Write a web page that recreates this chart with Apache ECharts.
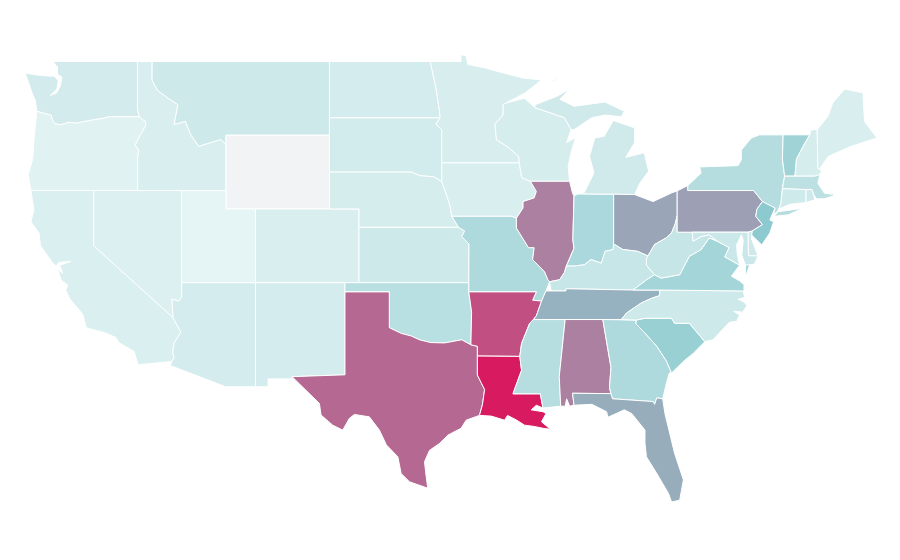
<!DOCTYPE html>
<html><head><meta charset="utf-8">
<style>html,body{margin:0;padding:0;background:#fff}#c{width:900px;height:560px}</style>
<script src="https://cdn.jsdelivr.net/npm/echarts@6/dist/echarts.min.js"></script>
</head><body><div id="c"></div>
<script>
const stateNames = ["WA","OR","CA","NV","ID","MT","WY","UT","CO","AZ","NM","ND","SD","NE","KS","OK","TX","MN","IA","MO","AR","LA","WI","IL","IN","MI","OH","KY","TN","MS","AL","GA","FL","SC","NC","VA","WV","PA","NY","VT","NH","ME","MA","CT","RI","NJ","DE","MD"];
const stateValues = [11.7,4.8,8,6.4,8.5,15,null,2,8.5,10.6,10.6,10.6,12,10,14.4,26,77.5,9.6,9,31.4,85,100,10,71,33,13.3,60,18,57,27,71,31,58,42.5,15,36.7,18.6,62,27.7,39.4,10,8.5,23.4,13.8,14,49,14,16.5];
const scaleStops = ["#e9f6f6","#8bc9ce","#d81b60"];
const noDataColor = "#f2f3f5";
const rev = s => s.split(" ").reverse().join(" ");
const COL = "-123.85,46.3 -123.2,46.15 -122.9,46.1 -122.8,45.85 -122.65,45.62 -122.2,45.57 -121.7,45.7 -121.2,45.65 -120.6,45.75 -119.9,45.85 -119.3,45.93 -119,46 -116.92,46";
const SNK = "-117.03,42 -117.03,43.8 -116.95,44.2 -117.2,44.45 -116.85,45 -116.5,45.5 -116.47,45.74 -116.7,45.85 -116.92,46";
const MTID = "-116.05,49 -116.05,48 -115.7,47.45 -114.95,47 -114.3,46.66 -114.56,45.58 -113.8,45.76 -113.45,45.05 -112.9,44.4 -112.3,44.55 -111.4,44.77 -111.05,44.5";
const COLR = "-114.63,35.1 -114.1,34.3 -114.55,33.75 -114.66,33.2 -114.55,32.9 -114.72,32.72";
const RED = "-100,34.56 -99.2,34.25 -98.5,34.1 -97.96,33.9 -97.2,33.75 -96.27,33.73 -95.1,33.9 -94.48,33.63";
const SAB = "-94.04,33.02 -94.04,31.99 -93.8,31.6 -93.55,31.2 -93.7,30.37 -93.9,29.8";
const MLOW = "-89.7,36 -90.05,35.2 -90.25,35 -90.5,34.8 -91.05,33.7 -91.17,33";
const MSLA = "-91.17,33 -91.05,32.25 -91.63,30.97 -89.78,30.97 -89.6,30.2";
const ALGA = "-85.55,35 -85,32.4 -85.1,31.3 -85,30.98";
const SCGA = "-83.3,34.97 -83.3,34.76 -82.8,34.35 -81.9,33.55 -81.25,32.75 -80.9,32.1";
const SCNC = "-83.3,34.97 -82.7,35.07 -80.9,35.07 -80.7,34.8 -79.7,34.8 -78.65,33.8";
const TNNC = "-84.3,35 -83.95,35.35 -82.95,35.9 -82.25,36.15 -81.7,36.3 -81.7,36.6";
const KYVA = "-83.5,36.6 -82.6,37.15 -82.05,37.43";
const KYWV = "-82.05,37.43 -82.6,37.95 -82.6,38.3 -82.5,38.45";
const OHE = "-82.5,38.45 -82.05,39.07 -81.26,39.43 -80.9,39.7 -80.65,40.2 -80.52,40.64";
const OHK = "-82.5,38.45 -83.2,38.7 -84.2,38.8 -84.82,39.1";
const OHI = "-84.82,39.1 -84.85,38.8 -85.4,38.7 -85.65,38.06 -86.35,38.25 -86.8,37.97 -87.5,37.9 -88.02,37.9";
const WAB = "-88.02,37.9 -87.5,38.87 -87.58,39.33 -87.5,41.7";
const OHW = "-88.02,37.9 -88.15,37.55 -88.47,37.16 -89.15,37.05";
const MIL = "-89.15,37.05 -89.27,37.16 -89.5,37.6 -90.3,38.25 -90.2,38.9 -90.58,38.9 -91.4,39.96 -91.4,40.5";
const IAIL = "-91.4,40.5 -90.95,41.05 -90.95,41.4 -90.2,41.6 -90.05,41.95 -90.45,42.5";
const WVVA = "-82.05,37.43 -81.6,37.25 -80.35,37.43 -79.7,38.43 -78.9,38.8 -78.35,39.43 -77.8,39.25";
const MDWV = "-77.8,39.25 -78.35,39.6 -78.9,39.5 -79.45,39.25 -79.5,39.74";
const PAE = "-75.35,42 -74.75,41.4 -75.13,40.98 -75.2,40.6 -74.75,40.15 -75.45,39.8 -75.73,39.74";
const VTNH = "-71.55,45.02 -72,44.4 -72.45,43.7 -72.55,42.78";
const MISL = "-91.2,43.5 -91.25,43.85 -91.95,44.35 -92.75,44.75 -92.85,45.6 -92.3,46.1 -92.3,46.65 -92.1,46.75";
const outlines = {
WA:[`-124.65,48.38 -124.4,47.85 -124.13,47.2 -123.95,46.9 ${COL} -117.04,46.42 -117.04,49 -122.76,49 -122.45,48.7 -122.45,48.3 -122.15,48.15 -122.25,47.7 -122.5,47.3 -122.95,47.15 -122.85,47.22 -122.5,47.5 -122.4,47.95 -122.65,48.2 -123.2,48.22 -124,48.28`],
OR:[`-123.85,46.3 -123.95,45.5 -124.05,44.7 -124.13,43.7 -124.43,42.87 -124.25,42 ${SNK} ${rev(COL)}`],
CA:[`-124.25,42 -120,42 -120,39 ${COLR} -117,32.55 -117.27,33.27 -118.3,33.75 -118.5,34.03 -119.3,34.3 -120.5,34.55 -120.75,35.3 -121.6,36.1 -121.9,36.6 -121.75,36.85 -122.2,37.15 -122.45,37.75 -122.1,37.5 -122.3,37.95 -121.55,38.15 -122.35,38.1 -122.55,37.9 -122.8,38.1 -123.6,39 -123.7,39.7 -124.25,40.3 -124.05,40.96`],
NV:["-120,42 -114.05,42 -114.05,36.2 -114.25,36 -114.7,36.1 -114.63,35.1 -120,39"],
ID:[`-117.04,49 ${MTID} -111.05,42 ${SNK} -117.04,46.42`],
MT:[`${MTID} -111.05,45 -104.05,45 -104.05,49`],
WY:["-111.05,45 -104.05,45 -104.05,41 -111.05,41"],
UT:["-114.05,42 -111.05,42 -111.05,41 -109.05,41 -109.05,37 -114.05,37"],
CO:["-109.05,41 -102.05,41 -102.05,37 -109.05,37"],
AZ:[`-114.05,37 -109.05,37 -109.05,31.35 -111.07,31.35 -114.81,32.5 ${rev(COLR)} -114.7,36.1 -114.25,36 -114.05,36.2`],
NM:["-109.05,37 -103,37 -103,32 -106.58,31.9 -106.53,31.78 -108.2,31.78 -108.2,31.35 -109.05,31.35"],
ND:["-104.05,49 -97.23,49 -96.85,47.6 -96.6,46.3 -96.56,45.94 -104.05,45.94"],
SD:["-104.05,45.94 -96.56,45.94 -96.85,45.6 -96.45,45.3 -96.45,43.5 -96.45,42.49 -97,42.75 -97.9,42.8 -98.5,43 -104.05,43"],
NE:["-104.05,43 -98.5,43 -97.9,42.8 -97,42.75 -96.45,42.49 -96.1,41.7 -95.9,41.2 -95.77,40.6 -95.31,40 -102.05,40 -102.05,41 -104.05,41"],
KS:["-102.05,40 -95.31,40 -94.9,39.8 -95.1,39.5 -94.61,39.1 -94.62,37 -102.05,37"],
OK:[`-103,37 -94.62,37 -94.62,36.5 -94.43,35.4 -94.48,33.63 ${rev(RED)} -100,36.5 -103,36.5`],
TX:[`-103,36.5 -100,36.5 ${RED} -94.04,33.55 ${SAB} -94.8,29.54 -95.14,29.1 -96.03,28.73 -96.6,28.28 -97.28,27.9 -97.62,27.28 -97.5,26.46 -97.4,25.85 -98.64,26.2 -99.2,26.65 -99.42,27.55 -100.2,28.2 -100.67,29 -101.35,29.72 -102.36,29.85 -102.7,29.64 -103.15,29 -103.83,29.27 -104.62,29.82 -104.73,30.45 -106.58,31.9 -103,32`],
MN:[`-97.23,49 -95.15,49 -95.15,49.38 -94.8,49.3 -94.7,48.84 -93.55,48.66 -92.3,48.38 -90.95,48.1 -89.7,48 -90.8,47.3 ${rev(MISL)} -96.45,43.5 -96.45,45.3 -96.85,45.6 -96.56,45.94 -96.6,46.3 -96.85,47.6`],
IA:[`-96.45,43.5 -91.2,43.5 -91.05,42.7 ${rev(IAIL)} -91.73,40.6 -95.77,40.6 -95.9,41.2 -96.1,41.7 -96.45,42.49`],
MO:[`-95.77,40.6 -91.73,40.6 -91.4,40.5 ${rev(MIL)} -89.4,36.55 -89.7,36 -90.3,36.05 -90.05,36.5 -94.62,36.5 -94.62,37 -94.61,39.1 -95.1,39.5 -94.9,39.8 -95.31,40`],
AR:[`-94.62,36.5 -90.05,36.5 -90.3,36.05 ${MLOW} -94.04,33.02 -94.04,33.55 -94.48,33.63 -94.43,35.4`],
LA:[`${MSLA} -90.05,30.35 -90.4,30.1 -89.6,30 -89.4,29.9 -89.7,29.45 -89.1,29.05 -89.6,29.1 -90.2,29.2 -90.85,29.27 -91.4,29.55 -92,29.8 -92.2,29.54 -93.1,29.76 ${rev(SAB)}`],
WI:[`-92.1,46.75 -90.85,47 -90.15,46.5 -88.15,45.95 -87.7,45.3 -88,44.6 -87.4,44.87 -87.7,44.06 -87.9,43.3 -87.8,42.5 -90.45,42.5 -91.05,42.7 -91.2,43.5 -91.25,43.85 -91.95,44.35 -92.75,44.75 -92.85,45.6 -92.3,46.1 -92.3,46.65`],
IL:[`-90.45,42.5 -87.8,42.5 -87.6,41.85 ${rev(WAB)} ${OHW} ${MIL} ${IAIL}`],
IN:[`-87.5,41.7 -87.25,41.82 -84.82,41.8 ${OHI} ${WAB}`],
MI:["-87.25,41.82 -84.82,41.8 -83.4,41.78 -83.05,42.4 -82.45,43.05 -82.75,44.05 -84,43.8 -83.4,44.6 -83.4,45.4 -84.85,45.8 -85.45,44.95 -86.1,44.85 -86.45,43.85 -86.15,42.95 -86.8,41.9",
    "-90.15,46.5 -88.15,45.95 -87.7,45.3 -87.5,45.3 -86.3,45.95 -85.4,46.1 -84.3,46 -84.1,46.3 -85.4,46.8 -87.5,46.57 -88.45,46.95 -87.8,47.5 -88.7,47.1 -90.15,46.65",
    "-89,47.93 -88.6,48.12 -88.75,47.95"],
OH:[`-84.82,41.8 -83.4,41.78 -82.15,41.4 -80.9,41.87 -80.52,41.98 ${rev(OHE)} ${OHK}`],
KY:[`-89.4,36.55 -88.05,36.55 -88.05,36.67 ${KYVA} ${KYWV} ${OHK} ${OHI} ${OHW} -89.05,36.55`],
TN:[`-89.7,36 -90.05,35.2 -90.25,35 ${TNNC} -83.5,36.6 -88.05,36.67 -88.05,36.55 -89.4,36.55`],
MS:[`-91.17,33 -91.05,33.7 -90.5,34.8 -90.25,35 -88.1,35 -88.5,31.9 -88.4,30.3 -89.6,30.2 -89.78,30.97 -91.63,30.97 -91.05,32.25`],
AL:[`-88.1,35 ${ALGA} -87.6,31 -87.5,30.35 -87.8,30.3 -88,30.7 -88.1,30.3 -88.4,30.3 -88.5,31.9`],
GA:[`-85.55,35 ${SCGA} -81.05,32.1 -81.25,31.55 -81.5,30.7 -81.9,30.75 -82.05,30.4 -82.15,30.55 -84.9,30.7 -85,30.98 -85.1,31.3 -85,32.4`],
FL:["-87.6,31 -85,30.98 -84.9,30.7 -82.15,30.55 -82.05,30.4 -81.9,30.75 -81.5,30.7 -81.35,29.9 -80.7,27.75 -80.1,26.3 -80.35,25.2 -80.9,25.1 -81.1,25.55 -81.9,26.65 -82.6,27.55 -82.7,28.3 -82.7,29 -83.6,29.9 -84.1,30.1 -85.2,29.7 -85.3,30 -86.3,30.4 -87.5,30.35"],
SC:[`${SCNC} -79.45,33.15 -80,32.8 -80.9,32.1 -81.25,32.75 -81.9,33.55 -82.8,34.35 -83.3,34.76`],
NC:[`${TNNC} -76.05,36.55 -75.95,36.2 -76.4,36.1 -76,35.95 -75.8,35.75 -76.1,35.4 -76.7,35.45 -76.3,35.25 -76.5,34.9 -77,34.85 -78.1,33.9 ${rev(SCNC)} -84.3,35`],
VA:[`-83.5,36.6 -81.7,36.6 -76,36.55 -76,36.9 -76.3,37.1 -76.85,37.35 -76.3,37.95 -77.3,38.4 -77,38.9 -77.8,39.25 ${rev(WVVA)} -82.6,37.15`,"-75.6,38 -75.9,37.95 -75.9,37.3"],
WV:[`-80.52,40.64 -80.52,39.74 -79.5,39.74 ${rev(MDWV)} ${rev(WVVA)} ${KYWV} ${OHE}`],
PA:[`-80.52,41.98 -79.8,42.27 -79.8,42 ${PAE} -80.52,39.74`],
NY:["-79.8,42 -79.8,42.27 -78.9,42.95 -79,43.28 -76.4,43.35 -76.18,43.67 -76.18,44.2 -75.5,44.85 -74.95,45.02 -73.35,45.02 -73.4,43.7 -73.25,42.78 -73.4,42.1 -73.5,41.3 -73.65,41 -73.75,40.85 -74,40.7 -73.9,41.05 -74.75,41.4 -75.35,42","-73.95,40.6 -73,40.68 -72,41.05 -72.6,40.97 -73.7,40.85"],
VT:[`-73.35,45.02 ${VTNH} -73.25,42.78 -73.4,43.7`],
NH:[`-71.55,45.02 -71.45,45.3 -71.05,45.3 -71,43.2 -70.75,43.1 -70.85,42.88 -71.2,42.78 ${rev(VTNH)}`],
ME:["-71.05,45.3 -70.3,46.05 -70,46.75 -69.2,47.5 -67.95,47.3 -67.85,45.75 -67,44.85 -68.75,44.4 -70.3,43.85 -70.85,43.2 -70.75,43.1 -71,43.2"],
MA:["-73.4,42.1 -73.25,42.78 -72.55,42.78 -71.2,42.78 -70.85,42.88 -71,42.4 -70.55,41.85 -70.05,41.8 -70.05,42.05 -69.95,41.7 -70.6,41.55 -71.1,41.55 -71.3,41.8 -71.4,42.05 -71.8,42.05"],
CT:["-73.4,42.1 -71.8,42.05 -71.8,41.35 -72.9,41.25 -73.65,41 -73.5,41.3"],
RI:["-71.8,42.05 -71.4,42.05 -71.3,41.8 -71.2,41.5 -71.8,41.35"],
NJ:["-74.75,41.4 -73.9,41.05 -74.25,40.4 -74,40.3 -74.25,39.7 -74.8,39.05 -75.5,39.6 -75.45,39.8 -74.75,40.15 -75.2,40.6 -75.13,40.98"],
DE:["-75.73,39.74 -75.45,39.8 -75.5,39.4 -75.05,38.45 -75.7,38.46"],
MD:[`-79.5,39.74 -75.73,39.74 -75.7,38.46 -75.05,38.45 -75.3,38 -75.9,37.95 -76.15,38.5 -76.05,39.3 -76.18,39.6 -76.5,39.05 -76.45,38.5 -76.3,37.95 -77.3,38.4 -77,38.9 -77.8,39.25 -78.35,39.6 -78.9,39.5 -79.45,39.25`]
};
const ringOf = s => { const r = s.split(" ").map(p => p.split(",").map(Number)); r.push(r[0].slice()); return [r]; };
const features = stateNames.map(n => ({type:"Feature",properties:{name:n},geometry:{type:"MultiPolygon",coordinates:outlines[n].map(ringOf)}}));
echarts.registerMap("USA",{type:"FeatureCollection",features});
const chart = echarts.init(document.getElementById("c"),null,{renderer:"canvas"});
chart.setOption({
  animation:false,
  backgroundColor:"#fff",
  visualMap:{show:false,min:0,max:100,inRange:{color:scaleStops}},
  series:[{type:"map",map:"USA",aspectScale:0.803,left:25,top:54.5,width:852,height:447.5,roam:false,silent:true,
    label:{show:false},
    itemStyle:{areaColor:noDataColor,borderColor:"#fff",borderWidth:1},
    emphasis:{disabled:true},select:{disabled:true},
    data:stateNames.map((n,i)=>({name:n,value:stateValues[i]}))}]
});
</script></body></html>
